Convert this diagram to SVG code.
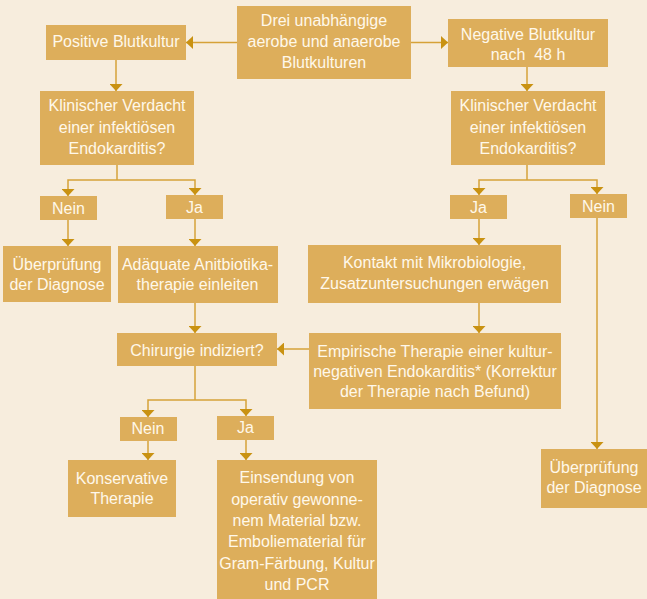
<svg xmlns="http://www.w3.org/2000/svg" width="647" height="599" viewBox="0 0 647 599">
<defs>
<marker id="ah" markerUnits="userSpaceOnUse" viewBox="0 0 7 13" refX="7" refY="6.5" markerWidth="7" markerHeight="13" orient="auto">
<path d="M0,0 L7,6.5 L0,13 z" fill="#C99212"/>
</marker>
<style>
.b{fill:#DDAE5B}
.t{font-family:"Liberation Sans",Arial,sans-serif;font-size:16px;fill:#FFF8EA;text-anchor:middle}
.c{fill:none;stroke:#D6A238;stroke-width:1.5}
.a{marker-end:url(#ah)}
</style>
</defs>
<rect x="0" y="0" width="647" height="599" fill="#F7EDDD"/>
<g id="connectors">
<path class="c a" d="M237,42.5 H186"/>
<path class="c a" d="M411,42.5 H448"/>
<path class="c a" d="M116,60 V91"/>
<path class="c a" d="M527,67 V91"/>
<path class="c" d="M117,165 V180"/>
<path class="c a" d="M117,180 H68 V196"/>
<path class="c a" d="M117,180 H195 V195"/>
<path class="c a" d="M68,220 V246"/>
<path class="c a" d="M195,219 V246"/>
<path class="c a" d="M195,303 V333"/>
<path class="c" d="M527,165 V180"/>
<path class="c a" d="M527,180 H479 V195"/>
<path class="c a" d="M527,180 H597 V194"/>
<path class="c a" d="M479,219 V245"/>
<path class="c a" d="M479,303 V333"/>
<path class="c a" d="M597,218 V449"/>
<path class="c a" d="M309,349 H277"/>
<path class="c" d="M195,366 V400"/>
<path class="c a" d="M195,400 H148 V417"/>
<path class="c a" d="M195,400 H246 V416"/>
<path class="c a" d="M148,441 V460"/>
<path class="c a" d="M246,440 V460"/>
</g>
<g id="drei">
<rect class="b" x="237" y="6" width="174" height="73"/>
<text class="t" x="324" y="26">Drei unabhängige</text>
<text class="t" x="324" y="47">aerobe und anaerobe</text>
<text class="t" x="324" y="68">Blutkulturen</text>
</g>
<g id="positiv">
<rect class="b" x="46" y="25" width="140" height="35"/>
<text class="t" x="116" y="46.5">Positive Blutkultur</text>
</g>
<g id="negativ">
<rect class="b" x="448" y="19" width="160" height="48"/>
<text class="t" x="528" y="39.5">Negative Blutkultur</text>
<text class="t" x="528" y="60" xml:space="preserve">nach  48 h</text>
</g>
<g id="verdacht-links">
<rect class="b" x="40" y="91" width="154" height="74"/>
<text class="t" x="117" y="110.5">Klinischer Verdacht</text>
<text class="t" x="117" y="132.5">einer infektiösen</text>
<text class="t" x="117" y="154">Endokarditis?</text>
</g>
<g id="verdacht-rechts">
<rect class="b" x="451" y="91" width="154" height="74"/>
<text class="t" x="528" y="110.5">Klinischer Verdacht</text>
<text class="t" x="528" y="132.5">einer infektiösen</text>
<text class="t" x="528" y="154">Endokarditis?</text>
</g>
<g id="nein-links">
<rect class="b" x="40" y="196" width="57" height="24"/>
<text class="t" x="68.5" y="213.5">Nein</text>
</g>
<g id="ja-links">
<rect class="b" x="166" y="195" width="57" height="24"/>
<text class="t" x="194.5" y="212.5">Ja</text>
</g>
<g id="ja-rechts">
<rect class="b" x="450" y="195" width="57" height="24"/>
<text class="t" x="478.5" y="212.5">Ja</text>
</g>
<g id="nein-rechts">
<rect class="b" x="570" y="194" width="57" height="24"/>
<text class="t" x="598.5" y="211.5">Nein</text>
</g>
<g id="ueberpruefung-links">
<rect class="b" x="3" y="246" width="108" height="56"/>
<text class="t" x="57" y="269.5">Überprüfung</text>
<text class="t" x="57" y="290">der Diagnose</text>
</g>
<g id="antibiotika">
<rect class="b" x="118" y="246" width="160" height="57"/>
<text class="t" x="197.5" y="269.5">Adäquate Anitbiotika-</text>
<text class="t" x="197.5" y="290">therapie einleiten</text>
</g>
<g id="kontakt">
<rect class="b" x="308" y="245" width="253" height="58"/>
<text class="t" x="434.5" y="267.5">Kontakt mit Mikrobiologie,</text>
<text class="t" x="434.5" y="289">Zusatzuntersuchungen erwägen</text>
</g>
<g id="chirurgie">
<rect class="b" x="117" y="333" width="160" height="33"/>
<text class="t" x="197" y="356">Chirurgie indiziert?</text>
</g>
<g id="empirisch">
<rect class="b" x="309" y="333" width="252" height="76"/>
<text class="t" x="435" y="356.5">Empirische Therapie einer kultur-</text>
<text class="t" x="435" y="376.5">negativen Endokarditis* (Korrektur</text>
<text class="t" x="435" y="396.5">der Therapie nach Befund)</text>
</g>
<g id="nein-unten">
<rect class="b" x="120" y="417" width="57" height="24"/>
<text class="t" x="148" y="434">Nein</text>
</g>
<g id="ja-unten">
<rect class="b" x="217" y="416" width="57" height="24"/>
<text class="t" x="245.5" y="433">Ja</text>
</g>
<g id="konservativ">
<rect class="b" x="68" y="460" width="108" height="57"/>
<text class="t" x="122" y="483.5">Konservative</text>
<text class="t" x="122" y="503.5">Therapie</text>
</g>
<g id="einsendung">
<rect class="b" x="217" y="460" width="160" height="139"/>
<text class="t" x="297" y="483">Einsendung von</text>
<text class="t" x="297" y="504.5">operativ gewonne-</text>
<text class="t" x="297" y="526">nem Material bzw.</text>
<text class="t" x="297" y="547">Emboliematerial für</text>
<text class="t" x="297" y="568.5">Gram-Färbung, Kultur</text>
<text class="t" x="297" y="589.5">und PCR</text>
</g>
<g id="ueberpruefung-rechts">
<rect class="b" x="541" y="449" width="106" height="59"/>
<text class="t" x="594" y="472.5">Überprüfung</text>
<text class="t" x="594" y="493">der Diagnose</text>
</g>
</svg>
